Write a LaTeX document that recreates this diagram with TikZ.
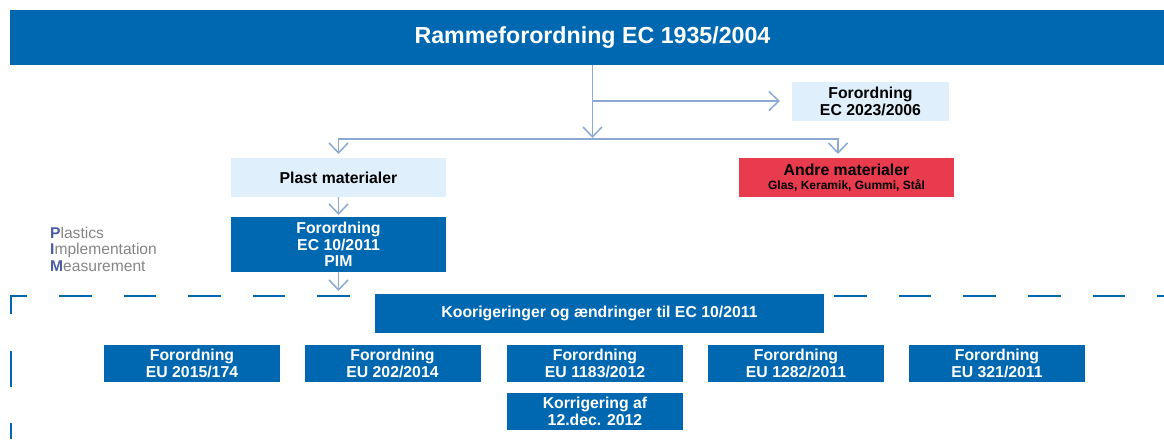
\documentclass[tikz,border=0pt]{standalone}
\usepackage{fontspec}
\setmainfont{Liberation Sans}
\usetikzlibrary{arrows.meta}
\definecolor{dblue}{HTML}{0068B1}
\definecolor{lblue}{HTML}{DFF0FC}
\definecolor{redbox}{HTML}{E83C4E}
\definecolor{arr}{HTML}{8CA9D3}
\definecolor{pimgray}{HTML}{858585}
\definecolor{pimblue}{HTML}{4A5BA5}
\begin{document}
\begin{tikzpicture}[x=1pt,y=-1pt,
  box/.style={inner sep=0pt, outer sep=0pt, align=center, font=\bfseries\fontsize{15.8}{16.5}\selectfont},
  darkbox/.style={box, fill=dblue, text=white},
  lightbox/.style={box, fill=lblue, text=black},
  redfill/.style={box, fill=redbox, text=black},
  wide/.style={minimum width=215pt},
  small/.style={minimum width=176pt, minimum height=37pt},
  conn/.style={draw=arr, line width=1.5pt, -{Straight Barb[length=10pt,width=19pt,line width=1.5pt]}},
  dashline/.style={draw=dblue, line width=2.5pt}
]
\useasboundingbox (0,0) rectangle (1164,439);

% dashed frame
\draw[dashline] (27,296) -- (11,296) -- (11,314);
\draw[dashline, dash pattern=on 36pt off 36pt] (11,351) -- (11,439);
\draw[dashline, dash pattern=on 32.6pt off 32pt] (59,296) -- (1164,296);

% top bar
\node[box, fill=dblue, minimum width=1154pt, minimum height=55pt] (top) at (587,37.5) {};
\node[box, text=white, font=\bfseries\fontsize{23.2}{24}\selectfont] (title) at (592.5,38) {Rammeforordning EC 1935/2004};

% boxes
\node[lightbox, minimum width=157pt, minimum height=39pt] (ec2023) at (870.5,101.5) {Forordning\\EC 2023/2006};
\node[lightbox, wide, minimum height=39pt] (plast) at (338.5,177.5) {Plast materialer};
\node[redfill, wide, minimum height=39pt] (andre) at (846.5,177.5) {Andre materialer\\[-3pt]{\fontsize{12}{12}\selectfont Glas, Keramik, Gummi, Stål}};
\node[darkbox, wide, minimum height=55pt] (pim) at (338.5,244.5) {Forordning\\EC 10/2011\\PIM};
\node[darkbox, minimum width=449pt, minimum height=39pt] (koor) at (599.5,313.5) {Koorigeringer og ændringer til EC 10/2011};

\node[darkbox, small] (r1) at (192,363.5) {Forordning\\EU 2015/174};
\node[darkbox, small] (r2) at (392.5,363.5) {Forordning\\EU 202/2014};
\node[darkbox, small] (r3) at (595,363.5) {Forordning\\EU 1183/2012};
\node[darkbox, small] (r4) at (796,363.5) {Forordning\\EU 1282/2011};
\node[darkbox, small] (r5) at (997,363.5) {Forordning\\EU 321/2011};
\node[darkbox, small] (korr) at (595,411.5) {Korrigering af\\12.dec. 2012};

% PIM label
\node[anchor=west, align=left, inner sep=0pt, text=pimgray, font=\fontsize{15.6}{16.5}\selectfont] (pimlabel) at (50,249)
  {{\color{pimblue}\bfseries P}lastics\\{\color{pimblue}\bfseries I}mplementation\\{\color{pimblue}\bfseries M}easurement};

% connectors
\coordinate (hl) at (592.5,139);
\coordinate (br) at (592.5,101);
\coordinate (andreIn) at (838,158);
\coordinate (dashin) at (338.5,291);
\draw[conn, shorten >=1pt] (top.south -| title.center) -- (hl);
\draw[conn, shorten >=12pt] (br) -- (ec2023.west |- br);
\draw[conn, shorten >=4pt] (hl) -| (plast.north);
\draw[conn, shorten >=4pt] (hl) -| (andreIn);
\draw[conn, shorten >=2pt] (plast.south) -- (pim.north);
\draw[conn] (pim.south) -- (dashin);
\end{tikzpicture}
\end{document}
